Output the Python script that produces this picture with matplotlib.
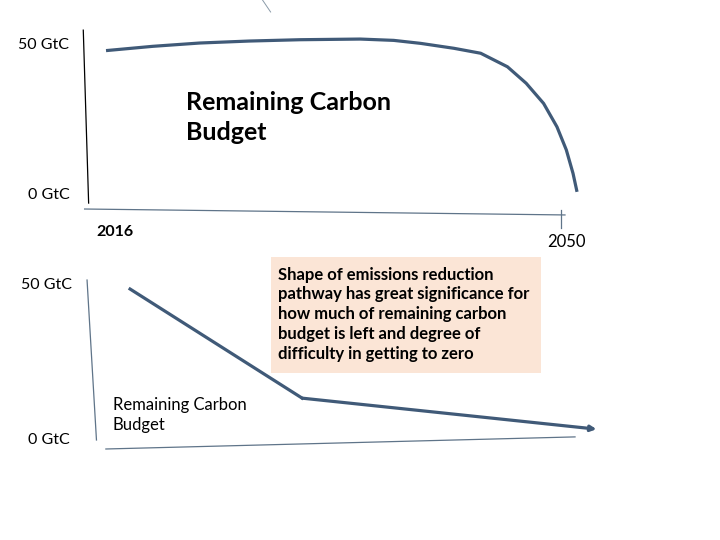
import matplotlib.pyplot as plt
from matplotlib.patches import Rectangle

plt.rcParams['font.family'] = ['Lato', 'DejaVu Sans']

# ---------------- data (years, GtC) ----------------
# top panel: late, steep decline
top_years = [2016.0, 2019.5, 2023.0, 2026.7, 2030.5, 2035.0, 2037.5, 2039.5, 2042.0,
             2044.0, 2046.0, 2047.4, 2048.7, 2049.7, 2050.4, 2050.9, 2051.2]
top_gtc = [48.3, 49.6, 50.6, 51.2, 51.6, 51.8, 51.4, 50.5, 49.0,
           47.5, 43.4, 38.4, 32.3, 25.2, 18.2, 11.1, 5.5]
top_yaxis_x = [2014.3, 2014.7]
top_yaxis_y = [54.5, 2.1]
top_xaxis_x = [2014.4, 2050.3]
top_xaxis_y = [0.3, -1.5]
top_tick_x = [2050.0, 2050.0]
top_tick_y = [0.0, -5.5]
top_stroke_x = [2027.7, 2028.3]
top_stroke_y = [63.6, 60.0]

# bottom panel: early, fast decline then slow tail
bot_years = [2016.9, 2029.7, 2051.6]
bot_gtc = [48.7, 13.5, 3.5]
bot_yaxis_x = [2013.7, 2014.4]
bot_yaxis_y = [51.6, 0.0]
bot_xaxis_x = [2015.1, 2050.0]
bot_xaxis_y = [-2.9, 1.0]

ytick_vals = [50, 0]
ytick_labels = ['50 GtC', '0 GtC']
year_labels = ['2016', '2050']

note = ("Shape of emissions reduction\n"
        "pathway has great significance for\n"
        "how much of remaining carbon\n"
        "budget is left and degree of\n"
        "difficulty in getting to zero")

line_col = '#405a78'
axis_col = '#5f7489'

fig = plt.figure(figsize=(7.2, 5.4), dpi=100)

# ---------------- top panel ----------------
ax1 = fig.add_axes([52.5 / 720, (540 - 243) / 540, 562 / 720, 231 / 540])
ax1.set_xlim(2012, 2054)
ax1.set_ylim(-10, 60)
ax1.axis('off')

ax1.plot(top_yaxis_x, top_yaxis_y, color='black', lw=0.9)
ax1.plot(top_xaxis_x, top_xaxis_y, color=axis_col, lw=0.9)
ax1.plot(top_tick_x, top_tick_y, color=axis_col, lw=0.9)
ax1.plot(top_stroke_x, top_stroke_y, color='#8a9aa8', lw=0.7, clip_on=False)
ax1.plot(top_years, top_gtc, color=line_col, lw=2.3, solid_capstyle='butt',
         solid_joinstyle='round')

ax1.text(2013.2, ytick_vals[0], ytick_labels[0], ha='right', va='center', fontsize=11.5, clip_on=False)
ax1.text(2013.3, 4.5, ytick_labels[1], ha='right', va='center', fontsize=11.5, clip_on=False)
ax1.text(2016.7, -6.7, year_labels[0], ha='center', va='center', fontsize=11.5, fontweight='bold')
ax1.text(2050.4, -9.7, year_labels[1], ha='center', va='center', fontsize=12, clip_on=False)
ax1.text(2022.0, 28.0, 'Remaining Carbon\nBudget', ha='left', va='center',
         fontsize=18, fontweight='bold', linespacing=1.35)

# ---------------- bottom panel ----------------
ax2 = fig.add_axes([64.2 / 720, (540 - 471) / 540, 564.6 / 720, 217 / 540])
ax2.set_xlim(2012, 2054)
ax2.set_ylim(-10, 60)
ax2.axis('off')

ax2.add_patch(Rectangle((2027.4, 21.6), 20.1, 37.4, facecolor='#fbe5d6', edgecolor='none'))
ax2.text(2027.9, 40.6, note, ha='left', va='center', fontsize=12, fontweight='bold',
         linespacing=1.29)

ax2.plot(bot_yaxis_x, bot_yaxis_y, color=axis_col, lw=0.9)
ax2.plot(bot_xaxis_x, bot_xaxis_y, color=axis_col, lw=0.9)
ax2.plot(bot_years[:2], bot_gtc[:2], color=line_col, lw=2.3)
ax2.annotate('', xy=(bot_years[2], bot_gtc[2]), xytext=(bot_years[1], bot_gtc[1]),
             arrowprops=dict(arrowstyle='-|>', color=line_col, lw=2.3,
                             mutation_scale=8, shrinkA=0, shrinkB=0), clip_on=False)

ax2.text(2012.6, ytick_vals[0], ytick_labels[0], ha='right', va='center', fontsize=11.5, clip_on=False)
ax2.text(2012.4, ytick_vals[1], ytick_labels[1], ha='right', va='center', fontsize=11.5, clip_on=False)
ax2.text(2015.6, 8.1, 'Remaining Carbon\nBudget', ha='left', va='center',
         fontsize=12, linespacing=1.3)

fig.savefig('out.png', dpi=100)
